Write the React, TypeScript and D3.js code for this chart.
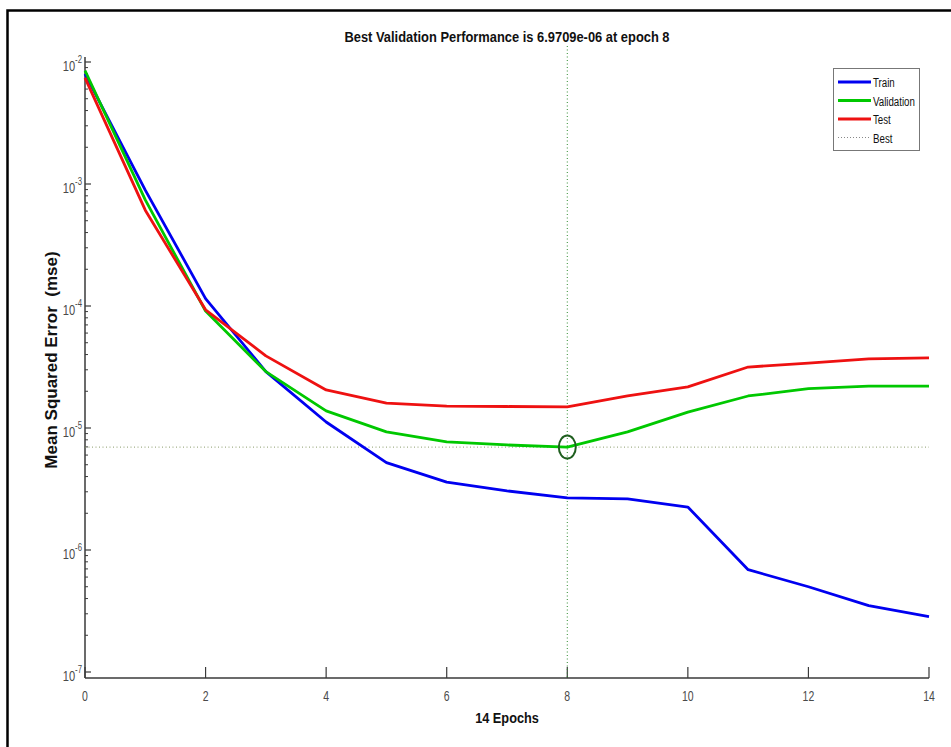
import { useRef, useEffect } from 'react';
import * as d3 from 'd3';

const epochs = [0, 1, 2, 3, 4, 5, 6, 7, 8, 9, 10, 11, 12, 13, 14];
const trainMse = [8.0e-3, 8.9e-4, 1.15e-4, 2.9e-5, 1.12e-5, 5.2e-6, 3.6e-6, 3.05e-6, 2.67e-6, 2.62e-6, 2.25e-6, 6.9e-7, 5.0e-7, 3.5e-7, 2.85e-7];
const validationMse = [8.5e-3, 7.4e-4, 9.1e-5, 2.9e-5, 1.38e-5, 9.3e-6, 7.7e-6, 7.26e-6, 6.9709e-6, 9.3e-6, 1.35e-5, 1.83e-5, 2.1e-5, 2.2e-5, 2.2e-5];
const testMse = [7.4e-3, 6.1e-4, 9.3e-5, 3.9e-5, 2.05e-5, 1.6e-5, 1.51e-5, 1.5e-5, 1.49e-5, 1.83e-5, 2.17e-5, 3.16e-5, 3.4e-5, 3.68e-5, 3.75e-5];
const xTicks = [0, 2, 4, 6, 8, 10, 12, 14];
const yExponents = [-2, -3, -4, -5, -6, -7];
const bestEpoch = 8;
const bestValue = 6.9709e-6;
const seriesNames = ['Train', 'Validation', 'Test', 'Best'];

const font = "'Liberation Sans', Arial, sans-serif";

// condensed text: the reference uses a narrow face, so squeeze horizontally
const narrowText = (
  parent: d3.Selection<any, unknown, null, undefined>,
  x: number, y: number, sx: number, anchor: string
) => parent.append('text')
  .attr('transform', `translate(${x},${y}) scale(${sx},1)`)
  .attr('text-anchor', anchor)
  .attr('font-family', font);

const App = () => {
  const ref = useRef<SVGSVGElement>(null);

  useEffect(() => {
    const svg = d3.select(ref.current);
    svg.selectAll('*').remove();
    const W = 951, H = 747;
    const left = 85, right = 929, bottom = 678, axisTop = 57;

    svg.append('rect').attr('width', W).attr('height', H).attr('fill', '#fff');
    // outer frame, runs off the right and bottom edge
    svg.append('rect')
      .attr('x', 7.5).attr('y', 10.5).attr('width', 1000).attr('height', 800)
      .attr('fill', 'none').attr('stroke', '#000').attr('stroke-width', 2.5);

    const x = d3.scaleLinear().domain([0, 14]).range([left, right]);
    const y = d3.scaleLog().domain([1e-7, 1e-2]).range([672, 62]);

    const axisColor = '#3a3a3a';
    const labelColor = '#4a4a4a';

    svg.append('line').attr('x1', left).attr('x2', left).attr('y1', axisTop).attr('y2', bottom)
      .attr('stroke', axisColor).attr('stroke-width', 1.5);
    svg.append('line').attr('x1', left).attr('x2', right).attr('y1', bottom).attr('y2', bottom)
      .attr('stroke', axisColor).attr('stroke-width', 1.5);

    // x ticks
    const xt = svg.append('g');
    xTicks.forEach(t => {
      xt.append('line').attr('x1', x(t)).attr('x2', x(t)).attr('y1', bottom).attr('y2', bottom - 11)
        .attr('stroke', axisColor).attr('stroke-width', 1.2);
      narrowText(xt, x(t), 701, 0.7, 'middle')
        .attr('font-size', 15).attr('fill', labelColor).text(t);
    });

    // y ticks
    const yt = svg.append('g');
    yExponents.forEach(e => {
      const v = Math.pow(10, e);
      yt.append('line').attr('x1', left).attr('x2', left + 6).attr('y1', y(v)).attr('y2', y(v))
        .attr('stroke', axisColor).attr('stroke-width', 1.2);
      const txt = narrowText(yt, 82, y(v) + 9, 0.74, 'end')
        .attr('font-size', 15).attr('fill', labelColor);
      txt.append('tspan').text('10');
      txt.append('tspan').attr('dy', -8).attr('font-size', 10.5).text(String(e));
      if (e > -7) {
        for (let k = 2; k <= 9; k++) {
          const mv = k * v / 10;
          yt.append('line').attr('x1', left).attr('x2', left + 3).attr('y1', y(mv)).attr('y2', y(mv))
            .attr('stroke', axisColor).attr('stroke-width', 1);
        }
      }
    });

    // best lines
    svg.append('line').attr('x1', x(bestEpoch)).attr('x2', x(bestEpoch)).attr('y1', 46).attr('y2', bottom)
      .attr('stroke', '#2e8b2e').attr('stroke-width', 1).attr('stroke-dasharray', '1,2.5');
    svg.append('line').attr('x1', left).attr('x2', right).attr('y1', y(bestValue)).attr('y2', y(bestValue))
      .attr('stroke', '#8a9a6a').attr('stroke-width', 1).attr('stroke-dasharray', '1,2.5');

    const line = d3.line<number>().x((_, i) => x(epochs[i])).y(d => y(d));
    const series = [
      { values: trainMse, color: '#0000f0' },
      { values: validationMse, color: '#00c800' },
      { values: testMse, color: '#ee1111' },
    ];
    series.forEach(s => {
      svg.append('path').attr('d', line(s.values)).attr('fill', 'none')
        .attr('stroke', s.color).attr('stroke-width', 2.8).attr('stroke-linejoin', 'round');
    });

    // best marker
    svg.append('ellipse').attr('cx', x(bestEpoch)).attr('cy', y(bestValue)).attr('rx', 8.5).attr('ry', 11.5)
      .attr('fill', 'none').attr('stroke', '#1f5f1f').attr('stroke-width', 2);

    // title and axis labels
    narrowText(svg, 507, 42, 0.86, 'middle')
      .attr('font-weight', 'bold').attr('font-size', 15).attr('fill', '#111')
      .text(`Best Validation Performance is ${bestValue.toExponential(4).replace('e-6', 'e-06')} at epoch ${bestEpoch}`);
    narrowText(svg, 507, 723, 0.85, 'middle')
      .attr('font-weight', 'bold').attr('font-size', 15).attr('fill', '#111')
      .text('14 Epochs');
    svg.append('text').attr('transform', 'translate(57,360) rotate(-90)').attr('text-anchor', 'middle')
      .attr('font-family', font).attr('font-weight', 'bold')
      .attr('font-size', 17).attr('fill', '#111').attr('xml:space', 'preserve')
      .text('Mean Squared Error  (mse)');

    // legend
    const lg = svg.append('g');
    lg.append('rect').attr('x', 833.5).attr('y', 68.5).attr('width', 86).attr('height', 82)
      .attr('fill', '#fff').attr('stroke', '#777').attr('stroke-width', 1);
    const legendStyles = [
      { color: '#0000f0', dash: null, width: 2.8 },
      { color: '#00c800', dash: null, width: 2.8 },
      { color: '#ee1111', dash: null, width: 2.8 },
      { color: '#888', dash: '1,2', width: 1 },
    ];
    seriesNames.forEach((name, i) => {
      const ly = 82 + i * 18.5;
      const st = legendStyles[i];
      const l = lg.append('line').attr('x1', 838).attr('x2', 871).attr('y1', ly).attr('y2', ly)
        .attr('stroke', st.color).attr('stroke-width', st.width);
      if (st.dash) l.attr('stroke-dasharray', st.dash);
      narrowText(lg, 873, ly + 5, 0.72, 'start')
        .attr('font-size', 13.5).attr('fill', '#111').text(name);
    });
  }, []);

  return (
    <svg ref={ref} width={951} height={747} style={{ position: 'absolute', left: 0, top: 0 }}></svg>
  );
};

export default App;
